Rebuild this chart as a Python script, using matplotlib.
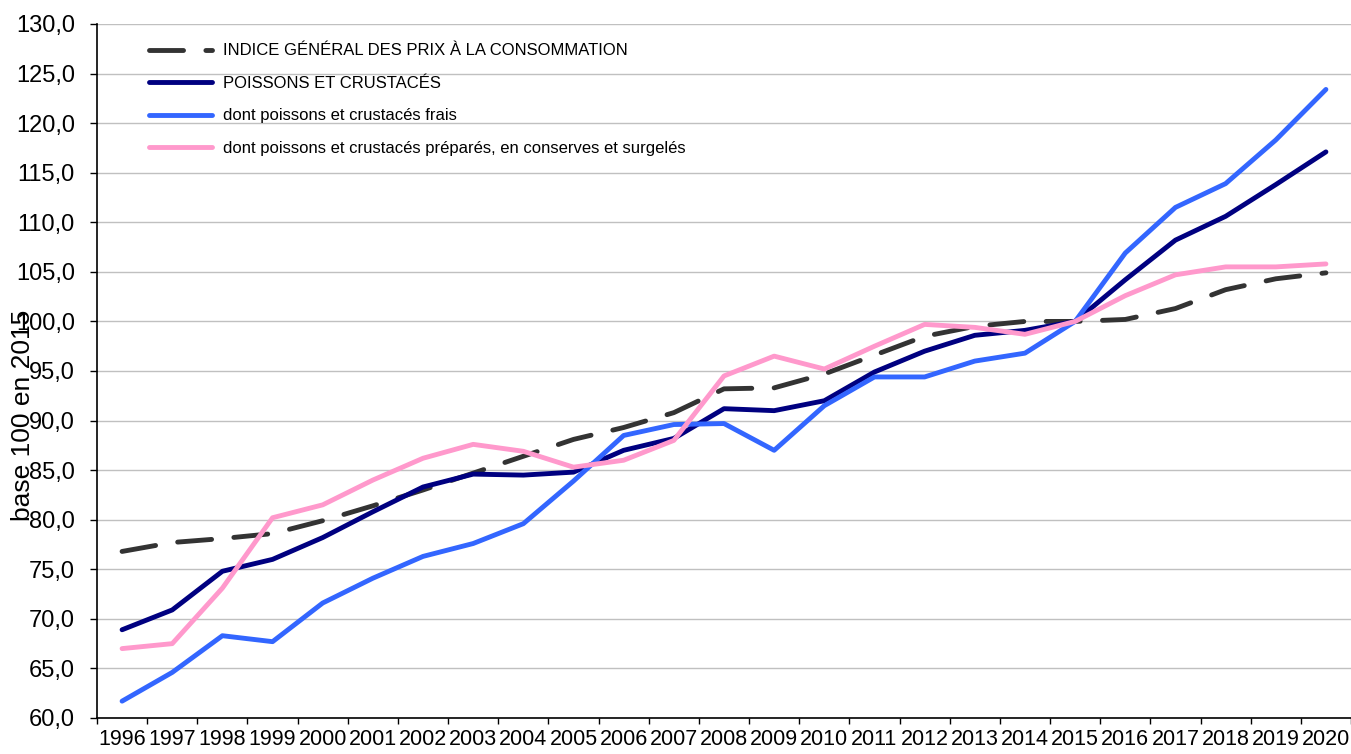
import matplotlib
matplotlib.use("Agg")
import matplotlib.pyplot as plt
from matplotlib.ticker import FuncFormatter, FixedLocator
import numpy as np

plt.rcParams['font.family'] = ['Liberation Sans', 'DejaVu Sans']

years = [str(y) for y in range(1996, 2021)]

# indices base 100 en 2015
indice_general = [76.8, 77.7, 78.1, 78.6, 79.9, 81.4, 83.0, 84.7, 86.4, 88.1,
                  89.3, 90.8, 93.2, 93.3, 94.7, 96.6, 98.5, 99.5, 100.0, 100.0,
                  100.2, 101.3, 103.2, 104.3, 104.9]
poissons_crustaces = [68.9, 70.9, 74.8, 76.0, 78.2, 80.8, 83.3, 84.6, 84.5, 84.8,
                      87.0, 88.2, 91.2, 91.0, 92.0, 94.9, 97.0, 98.6, 99.1, 100.0,
                      104.2, 108.2, 110.6, 113.8, 117.1]
frais = [61.7, 64.6, 68.3, 67.7, 71.6, 74.1, 76.3, 77.6, 79.6, 83.9,
         88.5, 89.6, 89.7, 87.0, 91.5, 94.4, 94.4, 96.0, 96.8, 100.0,
         106.9, 111.5, 113.9, 118.3, 123.4]
prepares = [67.0, 67.5, 73.1, 80.2, 81.5, 84.0, 86.2, 87.6, 86.9, 85.3,
            86.0, 88.0, 94.5, 96.5, 95.2, 97.5, 99.7, 99.4, 98.7, 100.0,
            102.6, 104.7, 105.5, 105.5, 105.8]

fig = plt.figure(figsize=(13.51, 7.54), dpi=100)
ax = fig.add_axes([97 / 1351, 1 - 718 / 754, 1 - 97 / 1351, (718 - 24) / 754])

x = np.arange(len(years))
lw = 3.5
ax.plot(x, indice_general, color="#333333", lw=lw, dashes=(7, 4.6), dash_capstyle="round",
        label="INDICE GÉNÉRAL DES PRIX À LA CONSOMMATION", zorder=3)
ax.plot(x, poissons_crustaces, color="#000080", lw=lw, solid_capstyle="round",
        label="POISSONS ET CRUSTACÉS", zorder=4)
ax.plot(x, frais, color="#3366FF", lw=lw, solid_capstyle="round",
        label="dont poissons et crustacés frais", zorder=4)
ax.plot(x, prepares, color="#FF99CC", lw=lw, solid_capstyle="round",
        label="dont poissons et crustacés préparés, en conserves et surgelés", zorder=5)

ax.set_xlim(-0.5, len(years) - 0.5)
ax.set_ylim(60, 130)
ax.set_yticks(np.arange(60, 131, 5))
ax.yaxis.set_major_formatter(FuncFormatter(lambda v, p: f"{v:.1f}".replace(".", ",")))
ax.grid(axis="y", color="#c0c0c0", lw=1)
ax.set_axisbelow(True)

ax.xaxis.set_major_locator(FixedLocator(np.arange(-0.5, len(years), 1)))
ax.xaxis.set_major_formatter(FuncFormatter(lambda v, p: ""))
ax.xaxis.set_minor_locator(FixedLocator(x))
ax.set_xticklabels(years, minor=True)
ax.tick_params(axis="x", which="major", direction="out", length=4, width=1)
ax.tick_params(axis="x", which="minor", length=0, pad=8, labelsize=15.5)
ax.tick_params(axis="y", direction="out", length=5, width=1, pad=11, labelsize=17)

for s in ["top", "right"]:
    ax.spines[s].set_visible(False)
ax.spines["left"].set_linewidth(1.2)
ax.spines["bottom"].set_linewidth(1.2)

# the reference lets this label run over the tick labels
fig.text(23 / 1351, 1 - 415 / 754, "base 100 en 2015", rotation=90, fontsize=19,
         ha="center", va="center")

ax.legend(loc="upper left", bbox_to_anchor=(0.035, 0.984), frameon=False, borderpad=0,
          fontsize=12, handlelength=3.75, labelspacing=1.05, handletextpad=0.68)

fig.savefig("out.png", dpi=100)
